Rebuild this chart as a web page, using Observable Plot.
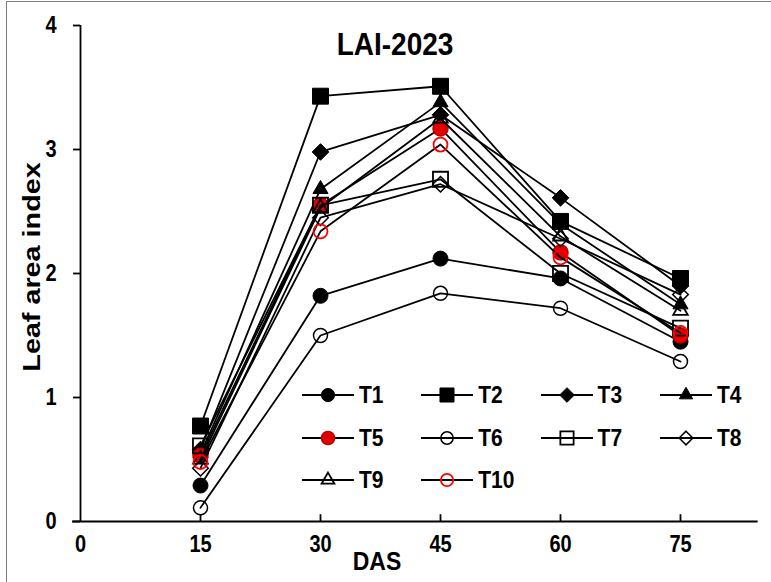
<!DOCTYPE html>
<html><head><meta charset="utf-8">
<script src="https://cdn.jsdelivr.net/npm/d3@7"></script>
<script src="https://cdn.jsdelivr.net/npm/@observablehq/plot@0.6"></script>
<style>
body{margin:0;background:#fff;font-family:"Liberation Sans",Arial,sans-serif;}
#wrap{position:relative;width:771px;height:582px;overflow:hidden;background:#fff}
#frame{position:absolute;left:6px;top:1px;width:780px;height:600px;border:1px solid #808080;box-sizing:border-box}
#chart{position:absolute;left:0;top:0}
.lbl{position:absolute;font-weight:bold;color:#000;white-space:nowrap}
#title{left:395px;top:45px;transform:translate(-50%,-50%) scaleY(1.15);font-size:28px}
#ylab{left:32px;top:267px;transform:translate(-50%,-50%) rotate(-90deg) scale(1.25,1);font-size:23px}
#xlab{left:377px;top:561px;transform:translate(-50%,-50%) scaleY(1.15);font-size:23px}
#legend{position:absolute;left:0;top:0}
.item{position:absolute;display:flex;align-items:center;transform:translateY(-50%)}
.item span{font-weight:bold;font-size:21px;margin-left:5px;display:inline-block;transform:scaleY(1.15)}
</style></head>
<body>
<div id="wrap">
  <div id="frame"></div>
  <div id="chart"></div>
  <div class="lbl" id="title">LAI-2023</div>
  <div class="lbl" id="ylab">Leaf area index</div>
  <div class="lbl" id="xlab">DAS</div>
  <div id="legend"></div>
</div>
<script>
// ---- data ----
const das = [15, 30, 45, 60, 75];
const treatments = ["T1","T2","T3","T4","T5","T6","T7","T8","T9","T10"];
const T1  = [0.29, 1.82, 2.12, 1.96, 1.45];
const T2  = [0.77, 3.43, 3.51, 2.42, 1.96];
const T3  = [0.58, 2.98, 3.28, 2.61, 1.90];
const T4  = [0.55, 2.68, 3.38, 2.40, 1.75];
const T5  = [0.53, 2.55, 3.17, 2.17, 1.50];
const T6  = [0.11, 1.50, 1.84, 1.72, 1.29];
const T7  = [0.61, 2.55, 2.76, 2.00, 1.56];
const T8  = [0.43, 2.45, 2.72, 2.28, 1.83];
const T9  = [0.50, 2.53, 3.25, 2.30, 1.70];
const T10 = [0.48, 2.34, 3.04, 2.13, 1.52];
const series = [T1,T2,T3,T4,T5,T6,T7,T8,T9,T10];
const xTicks = [0, 15, 30, 45, 60, 75];
const yTicks = [0, 1, 2, 3, 4];

// ---- styles ----
const styles = [
  {symbol:d3.symbolCircle,   r:7.5, fill:"black", stroke:"black", sw:1},
  {symbol:d3.symbolSquare,   r:9,   fill:"black", stroke:"black", sw:1},
  {symbol:d3.symbolDiamond2, r:7.5, fill:"black", stroke:"black", sw:1},
  {symbol:d3.symbolTriangle, r:5.6, fill:"black", stroke:"black", sw:1},
  {symbol:d3.symbolCircle,   r:7.5, fill:"#e00000", stroke:"#c00000", sw:1.5},
  {symbol:d3.symbolCircle,   r:7,   fill:"none",  stroke:"black", sw:1.5},
  {symbol:d3.symbolSquare,   r:8.5, fill:"none",  stroke:"black", sw:1.8},
  {symbol:d3.symbolDiamond2, r:7,   fill:"none",  stroke:"black", sw:1.5},
  {symbol:d3.symbolTriangle, r:5.4, fill:"none",  stroke:"black", sw:1.8},
  {symbol:d3.symbolCircle,   r:7,   fill:"none",  stroke:"#ff0000", sw:1.8}
];

const rows = treatments.flatMap((t, i) => das.map((d, j) => ({t, das: d, lai: series[i][j]})));

const marks = [
  Plot.ruleY([0], {x1: -1, x2: 84.7, stroke: "black", strokeWidth: 1.8}),
  Plot.ruleX([0], {y1: 0, y2: 4, stroke: "black", strokeWidth: 1.8}),
  Plot.ruleX(xTicks.slice(1), {x: d => d, y1: 0, y2: 0.055, stroke: "black", strokeWidth: 1.8}),
  Plot.axisY({ticks: yTicks, tickSize: 7, tickPadding: 17, tickFormat: d => d, strokeWidth: 1.8, label: null}),
  Plot.axisX({ticks: xTicks, tickSize: 0, tickPadding: 13, tickFormat: d => d, label: null})
];
treatments.forEach((t, i) => {
  const s = styles[i];
  const data = rows.filter(r => r.t === t);
  marks.push(Plot.line(data, {x: "das", y: "lai", stroke: "black", strokeWidth: 1.8}));
  marks.push(Plot.dot(data, {x: "das", y: "lai", symbol: s.symbol, r: s.r, fill: s.fill, stroke: s.stroke, strokeWidth: s.sw}));
});

const chart = Plot.plot({
  width: 771, height: 582,
  marginLeft: 80, marginRight: 11, marginTop: 25, marginBottom: 61,
  x: {domain: [0, 85]},
  y: {domain: [0, 4]},
  style: {fontFamily: "'Liberation Sans', Arial, sans-serif", fontWeight: "bold", fontSize: "20px", color: "black", background: "transparent", overflow: "visible"},
  marks
});
// stretch tick labels vertically like the reference
d3.select(chart).selectAll("g[aria-label='x-axis tick label'] text, g[aria-label='y-axis tick label'] text")
  .each(function() {
    const tr = this.getAttribute("transform") || "";
    this.setAttribute("transform", tr + " scale(1,1.2)");
  });
document.getElementById("chart").appendChild(chart);

// ---- legend ----
const legend = document.getElementById("legend");
treatments.forEach((t, i) => {
  const s = styles[i];
  const col = i % 4, row = Math.floor(i / 4);
  const div = document.createElement("div");
  div.className = "item";
  div.style.left = (302 + col * 119.3) + "px";
  div.style.top = (395 + row * 42.5) + "px";
  const svg = d3.create("svg").attr("width", 52).attr("height", 20);
  svg.append("line").attr("x1", 0).attr("x2", 52).attr("y1", 10).attr("y2", 10).attr("stroke", "black").attr("stroke-width", 1.8);
  const size = Math.PI * (s.r * 0.88) ** 2;
  svg.append("path").attr("transform", "translate(26,10)").attr("d", d3.symbol(s.symbol, size)())
    .attr("fill", s.fill).attr("stroke", s.stroke).attr("stroke-width", s.sw);
  div.appendChild(svg.node());
  const sp = document.createElement("span");
  sp.textContent = t;
  div.appendChild(sp);
  legend.appendChild(div);
});
</script>
</body></html>
